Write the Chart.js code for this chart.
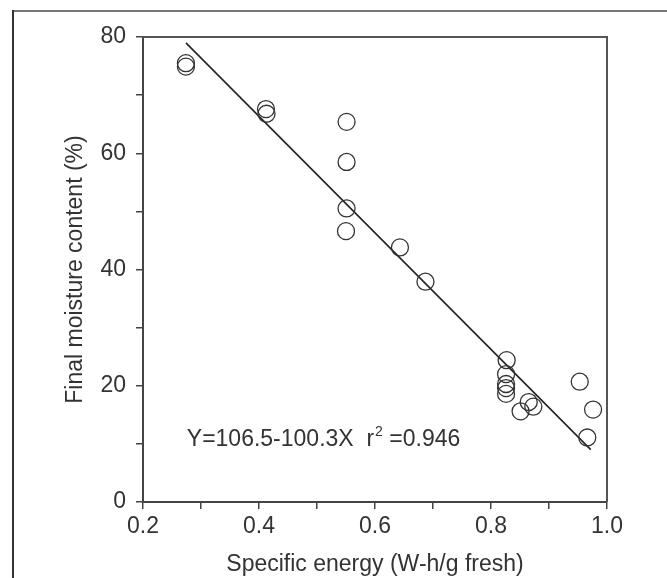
<!DOCTYPE html>
<html>
<head>
<meta charset="utf-8">
<script src="https://cdn.jsdelivr.net/npm/chart.js@4.4.1/dist/chart.umd.min.js"></script>
<style>
  html, body { margin: 0; padding: 0; background: #fff; }
  #wrap { width: 667px; height: 578px; position: relative; }
</style>
</head>
<body>
<div id="wrap"><canvas id="chart" width="667" height="578"></canvas></div>
<script>
// values
const energyX   = [0.274, 0.274, 0.412, 0.413, 0.551, 0.551, 0.551, 0.550, 0.643, 0.687, 0.827, 0.826, 0.826, 0.826, 0.826, 0.851, 0.865, 0.873, 0.953, 0.976, 0.966];
const moistureY = [75.5, 74.9, 67.6, 66.8, 65.4, 58.5, 50.5, 46.6, 43.8, 37.9, 24.4, 22.0, 20.3, 19.6, 18.6, 15.6, 17.2, 16.4, 20.7, 15.9, 11.1];
const fitX = [0.274, 0.972];
const fitY = [79.0, 9.0];
const xTickLabels = ['0.2', '0.4', '0.6', '0.8', '1.0'];
const yTickLabels = ['0', '20', '40', '60', '80'];

const FONT = 'Liberation Sans, Arial, sans-serif';
const INK = '#333';

const points = energyX.map((x, i) => ({ x: x, y: moistureY[i] }));
const fitLine = fitX.map((x, i) => ({ x: x, y: fitY[i] }));

// frame round the whole picture + box round the plot + regression text
const extras = {
  id: 'extras',
  beforeDraw(chart) {
    const c = chart.ctx;
    c.save();
    c.fillStyle = '#fff';
    c.fillRect(0, 0, chart.width, chart.height);
    c.restore();
  },
  afterDraw(chart) {
    const c = chart.ctx;
    const a = chart.chartArea;
    c.save();
    // plot box top + right
    c.strokeStyle = '#555';
    c.lineWidth = 2;
    c.beginPath();
    c.moveTo(a.left, a.top);
    c.lineTo(a.right, a.top);
    c.lineTo(a.right, a.bottom);
    c.stroke();
    // outer frame
    c.strokeStyle = '#777';
    c.beginPath();
    c.moveTo(12, 11);
    c.lineTo(chart.width, 11);
    c.stroke();
    c.strokeStyle = '#333';
    c.beginPath();
    c.moveTo(13, 10);
    c.lineTo(13, chart.height);
    c.stroke();

    // equation
    const xs = chart.scales.x, ys = chart.scales.y;
    let tx = xs.getPixelForValue(0.2755);
    const ty = ys.getPixelForValue(9.7);
    c.fillStyle = INK;
    c.textBaseline = 'alphabetic';
    c.font = '23px ' + FONT;
    const s1 = 'Y=106.5-100.3X  r';
    c.fillText(s1, tx, ty);
    tx += c.measureText(s1).width + 1;
    c.font = '14px ' + FONT;
    c.fillText('2', tx, ty - 10);
    tx += c.measureText('2').width;
    c.font = '23px ' + FONT;
    c.fillText(' =0.946', tx, ty);
    c.restore();
  }
};

new Chart(document.getElementById('chart'), {
  type: 'scatter',
  data: {
    datasets: [
      {
        data: points,
        pointStyle: 'circle',
        pointRadius: 8.5,
        pointBorderWidth: 1.3,
        borderColor: INK,
        backgroundColor: 'rgba(0,0,0,0)'
      },
      {
        type: 'line',
        data: fitLine,
        borderColor: '#222',
        borderWidth: 1.6,
        pointRadius: 0,
        fill: false
      }
    ]
  },
  options: {
    responsive: false,
    animation: false,
    devicePixelRatio: 1,
    layout: { padding: { left: 0, right: 60, top: 37, bottom: 0 } },
    plugins: { legend: { display: false }, tooltip: { enabled: false } },
    scales: {
      x: {
        type: 'linear',
        min: 0.2,
        max: 1.0,
        afterFit: (s) => { s.height = 76; },
        border: { display: true, color: '#444', width: 2 },
        grid: { drawOnChartArea: false, drawTicks: true, tickLength: 7, color: '#444', lineWidth: 1.5 },
        ticks: {
          stepSize: 0.1,
          autoSkip: false,
          maxRotation: 0,
          padding: 4,
          color: INK,
          font: { family: FONT, size: 23 },
          callback: (v) => { const s = Number(v).toFixed(1); return xTickLabels.includes(s) ? s : ''; }
        },
        title: {
          display: true,
          text: 'Specific energy (W-h/g fresh)',
          color: INK,
          font: { family: FONT, size: 23 },
          padding: { top: 14, bottom: 0 }
        }
      },
      y: {
        type: 'linear',
        min: 0,
        max: 80,
        afterFit: (s) => { s.width = 143; },
        border: { display: true, color: '#444', width: 2 },
        grid: { drawOnChartArea: false, drawTicks: true, tickLength: 7, color: '#444', lineWidth: 1.5 },
        ticks: {
          stepSize: 10,
          padding: 10,
          color: INK,
          font: { family: FONT, size: 23 },
          callback: (v) => { const s = String(Math.round(v)); return yTickLabels.includes(s) ? s : ''; }
        },
        title: {
          display: true,
          text: 'Final moisture content (%)',
          color: INK,
          font: { family: FONT, size: 23 },
          padding: { top: 62, bottom: 0 }
        }
      }
    }
  },
  plugins: [extras]
});
</script>
</body>
</html>
